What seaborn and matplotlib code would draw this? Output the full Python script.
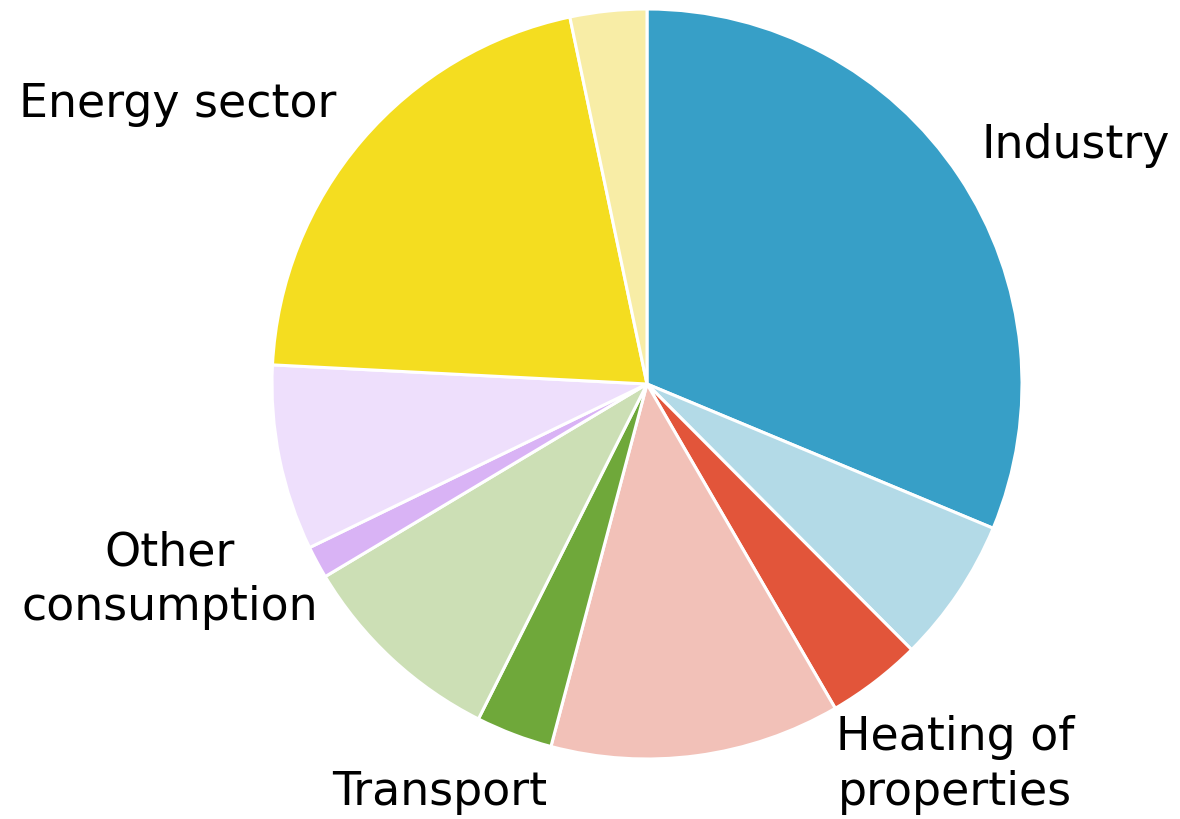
import numpy as np
import pandas as pd
import matplotlib
matplotlib.use("Agg")
import matplotlib.pyplot as plt
import seaborn as sns

# slice shares (%), clockwise from 12 o'clock
sectors = ["Industry", "Industry (light)", "Heating of properties", "Heating (light)",
           "Transport", "Transport (light)", "Other consumption", "Other (light)",
           "Energy sector", "Energy (light)"]
shares = [31.3, 6.25, 4.1, 12.5, 3.3, 9.0, 1.4, 8.0, 20.9, 3.3]
colors = ["#379FC7", "#B3DAE7", "#E2553A", "#F2C1B8", "#6FA83A",
          "#CCDFB5", "#D9B3F5", "#EEDFFC", "#F4DD20", "#F8EDA6"]

label_texts = ["Industry", "Heating of\nproperties", "Transport", "Other\nconsumption", "Energy sector"]
label_x = [1.144, 0.821, -0.552, -1.272, -1.251]
label_y = [0.64, -1.013, -1.088, -0.52, 0.747]

def main():
    sns.set_theme(style="white")
    plt.rcParams["font.family"] = ["DejaVu Sans"]

    df = pd.DataFrame({"sector": sectors, "share": shares, "color": colors})

    fig = plt.figure(figsize=(11.8, 8.2), dpi=100)
    ax = fig.add_axes([272 / 1180, 60 / 820, 750 / 1180, 750 / 820])
    ax.pie(df["share"], colors=df["color"], startangle=90, counterclock=False,
           wedgeprops=dict(edgecolor="white", linewidth=2.2))
    ax.set_xlim(-1, 1)
    ax.set_ylim(-1, 1)
    ax.set_aspect("equal")

    for txt, x, y in zip(label_texts, label_x, label_y):
        ax.text(x, y, txt, ha="center", va="center", fontsize=33,
                color="black", linespacing=1.27, clip_on=False)

    fig.savefig("out.png", dpi=100)

if __name__ == "__main__":
    main()
